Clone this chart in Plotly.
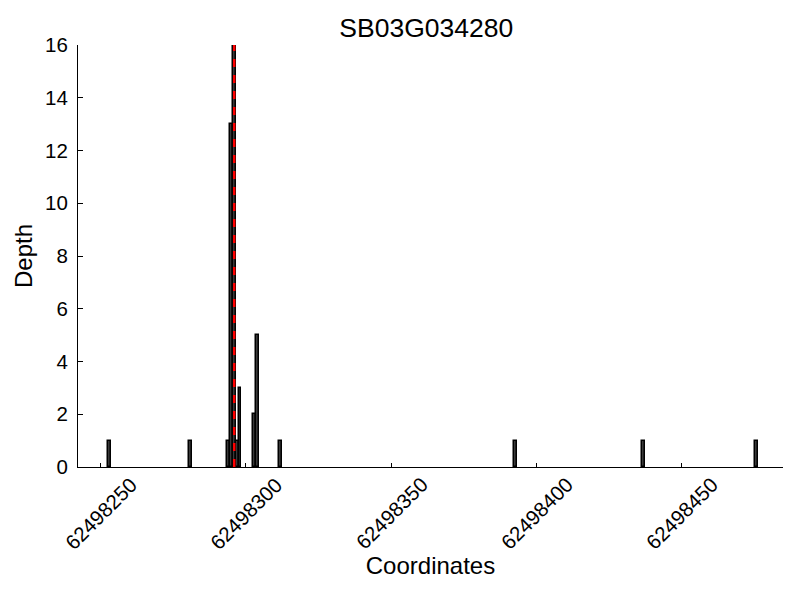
import plotly.graph_objects as go

positions = [62498253, 62498281, 62498294, 62498295, 62498296, 62498297, 62498298,
             62498303, 62498304, 62498312, 62498393, 62498437, 62498476]
depths = [1, 1, 1, 13, 16, 1, 3, 2, 5, 1, 1, 1, 1]
snp_pos = 62498296
x_ticks = [62498250, 62498300, 62498350, 62498400, 62498450]

fig = go.Figure()
fig.add_trace(go.Bar(x=positions, y=depths, width=1,
                     marker=dict(color='#3a3a3a', line=dict(color='black', width=1.5))))
fig.add_trace(go.Scatter(x=[snp_pos, snp_pos], y=[0, 16], mode='lines',
                         line=dict(color='red', width=2.5, dash='8px,8px')))

# rotated tick labels centred on the tick (like matplotlib rotation=45)
for t in x_ticks:
    fig.add_annotation(x=t, y=0, xref='x', yref='paper', text=str(t), showarrow=False,
                       textangle=-45, xanchor='center', yanchor='top', yshift=-3,
                       font=dict(size=20.5))

# page body adds an 8px margin, so the figure margins are shifted to compensate
fig.update_layout(
    width=800, height=600, template='plotly_white', showlegend=False,
    plot_bgcolor='white', paper_bgcolor='white',
    font=dict(family='Liberation Sans', color='black', size=20.5),
    title=dict(text='SB03G034280', x=0.494, xref='paper', xanchor='center',
               y=0.967, yanchor='middle', font=dict(size=26.5)),
    margin=dict(l=70, r=25, t=37, b=141, autoexpand=False),
    bargap=0,
)
fig.update_xaxes(range=[62498242.2, 62498485], tickvals=x_ticks, showticklabels=False,
                 ticks='inside', ticklen=4, tickcolor='black',
                 showline=True, linecolor='black', linewidth=1, showgrid=False, zeroline=False,
                 automargin=False,
                 title=dict(text='Coordinates', font=dict(size=24), standoff=90))
fig.update_yaxes(range=[0, 16], dtick=2, ticks='inside', ticklen=5, tickcolor='black',
                 ticklabelstandoff=5,
                 showline=True, linecolor='black', linewidth=1, showgrid=False, zeroline=False,
                 automargin=False,
                 title=dict(text='Depth', font=dict(size=24), standoff=5))

fig.write_html("out.html")
